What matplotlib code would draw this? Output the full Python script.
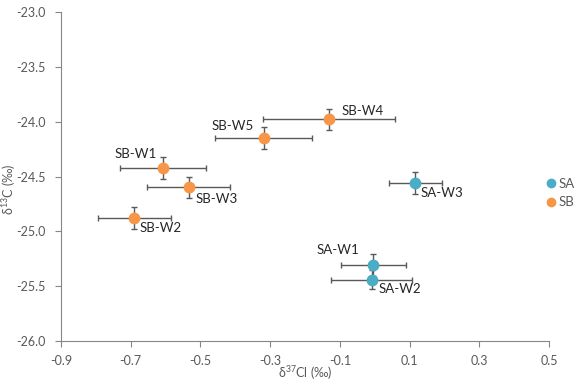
import matplotlib
matplotlib.use('Agg')
import matplotlib.pyplot as plt

plt.rcParams['font.family'] = ['Lato', 'DejaVu Sans']
plt.rcParams['mathtext.default'] = 'regular'

# data
sa_names = ['SA-W1', 'SA-W2', 'SA-W3']
sa_x = [-0.004, -0.009, 0.117]
sa_y = [-25.31, -25.44, -24.56]
sa_xerr = [0.094, 0.117, 0.076]
sa_yerr = [0.1, 0.09, 0.1]

sb_names = ['SB-W1', 'SB-W2', 'SB-W3', 'SB-W4', 'SB-W5']
sb_x = [-0.607, -0.69, -0.534, -0.131, -0.319]
sb_y = [-24.42, -24.88, -24.60, -23.98, -24.15]
sb_xerr = [0.123, 0.105, 0.12, 0.19, 0.14]
sb_yerr = [0.1, 0.1, 0.1, 0.1, 0.1]

# label offsets in pixels (dx, dy, ha)
sa_offs = [(-14, 15, 'right'), (7, -9, 'left'), (5, -10, 'left')]
sb_offs = [(-6, 14, 'right'), (5, -10, 'left'), (7, -12, 'left'),
           (12, 8, 'left'), (-10, 12, 'right')]

c_sa = '#4BACC6'
c_sb = '#F79646'
grey = '#595959'
fs = 9.5

fig = plt.figure(figsize=(5.76, 3.82), dpi=100)
ax = fig.add_axes([61/576, 1-341/382, 488/576, 329/382])

for x, y, xe, ye, c, lab in [(sa_x, sa_y, sa_xerr, sa_yerr, c_sa, 'SA'),
                             (sb_x, sb_y, sb_xerr, sb_yerr, c_sb, 'SB')]:
    ax.errorbar(x, y, xerr=xe, yerr=ye, fmt='none', ecolor=grey,
                elinewidth=1, capsize=2.5, capthick=1, zorder=2)
    ax.plot(x, y, 'o', color=c, markersize=7.5, label=lab, zorder=3)

for names, xs, ys, offs in [(sa_names, sa_x, sa_y, sa_offs),
                            (sb_names, sb_x, sb_y, sb_offs)]:
    for n, x, y, (dx, dy, ha) in zip(names, xs, ys, offs):
        ax.annotate(n, (x, y), xytext=(dx, dy), textcoords='offset pixels',
                    ha=ha, va='center', fontsize=fs, color='#262626')

ax.set_xlim(-0.9, 0.5)
ax.set_ylim(-26.0, -23.0)
ax.set_xticks([-0.9, -0.7, -0.5, -0.3, -0.1, 0.1, 0.3, 0.5])
ax.set_xticklabels(['-0.9', '-0.7', '-0.5', '-0.3', '-0.1', '0.1', '0.3', '0.5'])
ax.set_yticks([-26.0, -25.5, -25.0, -24.5, -24.0, -23.5, -23.0])
ax.set_yticklabels(['-26.0', '-25.5', '-25.0', '-24.5', '-24.0', '-23.5', '-23.0'])

for s in ['top', 'right']:
    ax.spines[s].set_visible(False)
for s in ['left', 'bottom']:
    ax.spines[s].set_color('#868686')
    ax.spines[s].set_linewidth(0.8)
ax.tick_params(colors='#868686', labelcolor=grey, labelsize=9, length=4, width=0.8)
ax.tick_params(axis='x', pad=6)
ax.tick_params(axis='y', pad=7)

ax.set_xlabel('δ$^{37}$Cl (‰)', fontsize=9, color=grey)
ax.xaxis.label.set_va('center')
ax.xaxis.set_label_coords(0.5, (341 - 373) / 329)
ax.set_ylabel('δ$^{13}$C (‰)', fontsize=9, color=grey)
ax.yaxis.label.set_va('center')
ax.yaxis.set_label_coords((9 - 61) / 488, (341 - 189) / 329)

fig.legend(loc='center left', bbox_to_anchor=(547/576, 1-193/382), frameon=False,
           fontsize=fs, handlelength=0.6, handletextpad=0.3, borderpad=0,
           borderaxespad=0, labelspacing=0.5, markerscale=0.8,
           labelcolor=grey)

fig.savefig('out.png', dpi=100)
